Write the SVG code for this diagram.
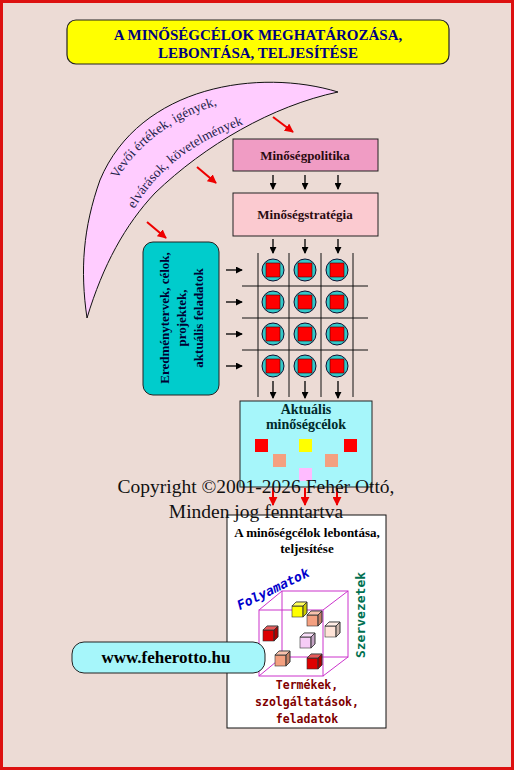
<svg xmlns="http://www.w3.org/2000/svg" width="514" height="770" viewBox="0 0 514 770">
<defs>
<style>
.serif{font-family:"Liberation Serif","Times New Roman",serif}
.mono{font-family:"DejaVu Sans Mono","Liberation Mono",monospace;font-weight:bold}
.b{font-weight:bold}
.ctr{text-anchor:middle}
.box{stroke:#222;stroke-width:1}
.grid{stroke:#111;stroke-width:1}
.blk{stroke:#000;stroke-width:1.3;marker-end:url(#ah)}
.red{stroke:#ee0000;stroke-width:2;marker-end:url(#rh)}
.cube{fill:none;stroke:#cc33cc;stroke-width:1}
.sc{stroke:#333;stroke-width:0.6}
</style>
<marker id="ah" viewBox="0 0 8 8" refX="7" refY="4" markerWidth="7" markerHeight="7" markerUnits="userSpaceOnUse" orient="auto"><path d="M0,0 L8,4 L0,8 Z" fill="#000"/></marker>
<marker id="rh" viewBox="0 0 10 10" refX="9" refY="5" markerWidth="9" markerHeight="9" markerUnits="userSpaceOnUse" orient="auto"><path d="M0,0 L10,5 L0,10 Z" fill="#ee0000"/></marker>
<path id="tp1" d="M112,189 Q146,123 228,102" fill="none"/>
<path id="tp2" d="M131,215 Q165,150 250,122" fill="none"/>
<g id="cb"><rect x="0" y="4" width="11" height="11"/><path d="M0,4 L4,0 L15,0 L11,4Z"/><path d="M11,4 L15,0 L15,11 L11,15Z"/><path d="M0,4 L4,0 L15,0 L11,4Z" fill="#fff" fill-opacity="0.35"/><path d="M11,4 L15,0 L15,11 L11,15Z" fill="#000" fill-opacity="0.2"/></g>
<g id="cell"><circle cx="0" cy="0" r="11" fill="#33c8c8" stroke="#113" stroke-width="1"/><rect x="-7" y="-7" width="14" height="14" fill="#ff0000" stroke="#400" stroke-width="0.6"/></g>
</defs>

<rect x="0" y="0" width="514" height="770" fill="#ecdbd5"/>
<rect x="1.5" y="1.5" width="511" height="767" fill="none" stroke="#dd1010" stroke-width="3"/>

<g id="title">
<rect x="67" y="20" width="382" height="44" rx="9" fill="#ffff00" stroke="#222" stroke-width="1.2"/>
<text class="serif b ctr" x="258" y="40" font-size="15" fill="#000080">A MINŐSÉGCÉLOK MEGHATÁROZÁSA,</text>
<text class="serif b ctr" x="258" y="58" font-size="15" fill="#000080">LEBONTÁSA, TELJESÍTÉSE</text>
</g>

<g id="crescent">
<path d="M338,92 C260,68 140,85 100,180 C83,228 80,270 87,318 C103,265 125,225 155,193 C205,145 272,106 338,92 Z" fill="#ffccff" stroke="#111" stroke-width="1"/>
<text class="serif" font-size="13.5" fill="#22224a" text-anchor="middle"><textPath href="#tp1" startOffset="50%">Vevői értékek, igények,</textPath></text>
<text class="serif" font-size="13.5" fill="#22224a" text-anchor="middle"><textPath href="#tp2" startOffset="50%">elvárások, követelmények</textPath></text>
</g>

<g id="politika">
<rect x="233" y="139" width="145" height="32" fill="#f09cc4" class="box"/>
<text class="serif b ctr" x="305" y="160" font-size="13" fill="#2a0a10">Minőségpolitika</text>
</g>

<g id="strategia">
<rect x="233" y="193" width="145" height="43" fill="#fbcad0" class="box"/>
<text class="serif b ctr" x="305" y="219" font-size="13" fill="#2a0a10">Minőségstratégia</text>
</g>

<g id="eredmeny">
<rect x="143" y="242" width="76" height="153" rx="10" fill="#00cccc" class="box"/>
<g transform="translate(181,318) rotate(-90)">
<text class="serif b ctr" x="0" y="-12" font-size="13" fill="#000033">Eredménytervek, célok,</text>
<text class="serif b ctr" x="0" y="5" font-size="13" fill="#000033">projektek,</text>
<text class="serif b ctr" x="0" y="22" font-size="13" fill="#000033">aktuális feladatok</text>
</g>
</g>

<g id="matrix">
<g class="grid">
<line x1="258" y1="253" x2="258" y2="397"/>
<line x1="289" y1="253" x2="289" y2="397"/>
<line x1="321" y1="253" x2="321" y2="397"/>
<line x1="353" y1="253" x2="353" y2="397"/>
<line x1="242" y1="286" x2="368" y2="286"/>
<line x1="242" y1="318" x2="368" y2="318"/>
<line x1="242" y1="350" x2="368" y2="350"/>
</g>
<use href="#cell" x="273" y="270"/><use href="#cell" x="305" y="270"/><use href="#cell" x="337" y="270"/>
<use href="#cell" x="273" y="302"/><use href="#cell" x="305" y="302"/><use href="#cell" x="337" y="302"/>
<use href="#cell" x="273" y="334"/><use href="#cell" x="305" y="334"/><use href="#cell" x="337" y="334"/>
<use href="#cell" x="273" y="366"/><use href="#cell" x="305" y="366"/><use href="#cell" x="337" y="366"/>
</g>

<g id="aktualis">
<rect x="240" y="401" width="132" height="86" fill="#a6f6fa" class="box"/>
<text class="serif b ctr" x="306" y="414" font-size="14" fill="#002a2a">Aktuális</text>
<text class="serif b ctr" x="306" y="429" font-size="14" fill="#002a2a">minőségcélok</text>
<rect x="255" y="439" width="13" height="13" fill="#ff0000"/>
<rect x="299" y="439" width="13" height="13" fill="#ffff00"/>
<rect x="344" y="439" width="13" height="13" fill="#ff0000"/>
<rect x="273" y="454" width="13" height="13" fill="#f4a080"/>
<rect x="325" y="454" width="13" height="13" fill="#f4a080"/>
<rect x="299" y="468" width="13" height="13" fill="#ffbbff"/>
</g>

<g id="lebontas">
<rect x="227" y="515" width="159" height="213" fill="#ffffff" stroke="#111" stroke-width="1"/>
<text class="serif b ctr" x="307" y="537" font-size="13" fill="#000">A minőségcélok lebontása,</text>
<text class="serif b ctr" x="307" y="553" font-size="13" fill="#000">teljesítése</text>
<g id="cube3d">
<rect class="cube" x="259" y="610" width="64" height="66"/>
<rect class="cube" x="282" y="591" width="66" height="66"/>
<line class="cube" x1="259" y1="610" x2="282" y2="591"/>
<line class="cube" x1="323" y1="610" x2="348" y2="591"/>
<line class="cube" x1="323" y1="676" x2="348" y2="657"/>
<line class="cube" x1="259" y1="676" x2="282" y2="657"/>
</g>
<use href="#cb" class="sc" x="292" y="602" fill="#ffff00"/>
<use href="#cb" class="sc" x="307" y="611" fill="#f4a080"/>
<use href="#cb" class="sc" x="263" y="626" fill="#dd0000"/>
<use href="#cb" class="sc" x="325" y="622" fill="#ffe4d8"/>
<use href="#cb" class="sc" x="300" y="633" fill="#f6ccf6"/>
<use href="#cb" class="sc" x="275" y="651" fill="#f4a080"/>
<use href="#cb" class="sc" x="307" y="654" fill="#dd0000"/>
<text class="mono" transform="translate(275,593) rotate(-26)" x="0" y="0" font-size="13" fill="#0000cc" text-anchor="middle" font-style="italic">Folyamatok</text>
<text class="mono" transform="translate(365,615) rotate(-90)" x="0" y="0" font-size="13" fill="#007050" text-anchor="middle">Szervezetek</text>
<text class="mono ctr" x="307" y="689" font-size="11.5" fill="#800000">Termékek,</text>
<text class="mono ctr" x="307" y="706" font-size="11.5" fill="#800000">szolgáltatások,</text>
<text class="mono ctr" x="307" y="723" font-size="11.5" fill="#800000">feladatok</text>
</g>

<g id="web">
<rect x="72" y="642" width="193" height="31" rx="12" fill="#a6f6fa" stroke="#222" stroke-width="1"/>
<text class="serif b ctr" x="166" y="663" font-size="17" fill="#000">www.feherotto.hu</text>
</g>

<g id="connectors">
<line class="red" x1="273" y1="117" x2="293" y2="132"/>
<line class="red" x1="197" y1="167" x2="216" y2="183"/>
<line class="red" x1="147" y1="222" x2="166" y2="238"/>
<line class="blk" x1="273" y1="175" x2="273" y2="189"/>
<line class="blk" x1="305" y1="175" x2="305" y2="189"/>
<line class="blk" x1="338" y1="175" x2="338" y2="189"/>
<line class="blk" x1="273" y1="239" x2="273" y2="253"/>
<line class="blk" x1="305" y1="239" x2="305" y2="253"/>
<line class="blk" x1="338" y1="239" x2="338" y2="253"/>
<line class="blk" x1="226" y1="270" x2="242" y2="270"/>
<line class="blk" x1="226" y1="302" x2="242" y2="302"/>
<line class="blk" x1="226" y1="334" x2="242" y2="334"/>
<line class="blk" x1="226" y1="366" x2="242" y2="366"/>
<line class="blk" x1="273" y1="381" x2="273" y2="398"/>
<line class="blk" x1="305" y1="381" x2="305" y2="398"/>
<line class="blk" x1="338" y1="381" x2="338" y2="398"/>
<line class="red" x1="273" y1="488" x2="273" y2="505"/>
<line class="red" x1="305" y1="488" x2="305" y2="505"/>
<line class="red" x1="337" y1="488" x2="337" y2="505"/>
</g>

<g id="copyright">
<text class="serif ctr" x="256" y="493" font-size="19.5" fill="#111">Copyright ©2001-2026 Fehér Ottó,</text>
<text class="serif ctr" x="256" y="518" font-size="19.5" fill="#111">Minden jog fenntartva</text>
</g>
</svg>
